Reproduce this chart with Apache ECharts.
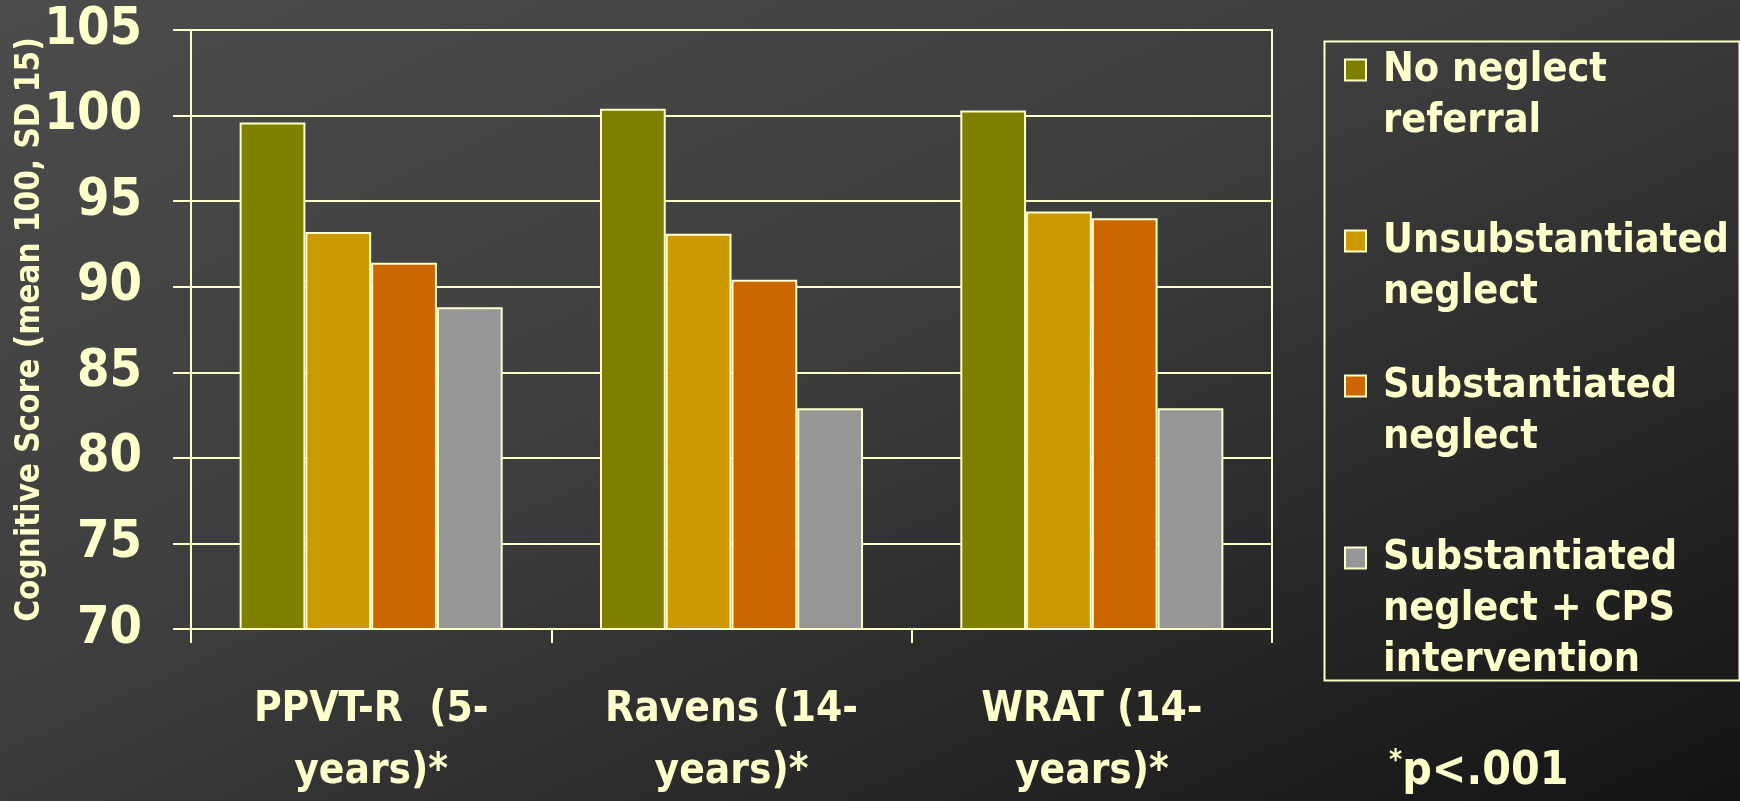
<!DOCTYPE html>
<html>
<head>
<meta charset="utf-8">
<script src="https://cdn.jsdelivr.net/npm/echarts@6/dist/echarts.min.js"></script>
<style>
html,body{margin:0;padding:0;width:1740px;height:801px;overflow:hidden;}
body{background:linear-gradient(to bottom right,#4c4c4c 0%,#3d3d3d 45%,#141414 100%);}
#chart{width:1740px;height:801px;}
</style>
</head>
<body>
<div id="chart"></div>
<script>
const categories = ['PPVT-R  (5-\nyears)*', 'Ravens (14-\nyears)*', 'WRAT (14-\nyears)*'];
const seriesNames = ['No neglect referral', 'Unsubstantiated neglect', 'Substantiated neglect', 'Substantiated neglect + CPS intervention'];
const legendLabels = ['No neglect\nreferral', 'Unsubstantiated\nneglect', 'Substantiated\nneglect', 'Substantiated\nneglect + CPS\nintervention'];
const noNeglect = [99.6, 100.4, 100.3];
const unsubstantiated = [93.2, 93.1, 94.4];
const substantiated = [91.4, 90.4, 94.0];
const substantiatedCPS = [88.8, 82.9, 82.9];
const yMin = 70, yMax = 105, yStep = 5;
const yTitle = 'Cognitive Score (mean 100, SD 15)';

const seriesValues = [noNeglect, unsubstantiated, substantiated, substantiatedCPS];
const colors = ['#808000', '#CC9900', '#CC6600', '#969696'];
const txt = '#FFFFCC';
const FONT = "'Liberation Sans Narrow','DejaVu Sans Condensed',sans-serif";

const chart = echarts.init(document.getElementById('chart'), null, {renderer: 'canvas'});

const L = 51;
const iconCenters = [75, 246, 391, 563];
const legends = seriesNames.map((name, i) => {
  const lines = legendLabels[i].split('\n');
  const n = lines.length;
  const allLines = [];
  for (let k = 0; k < n - 1; k++) allLines.push('{t| }');
  lines.forEach(s => allLines.push('{t|' + s + '}'));
  const content = allLines.join('\n');
  return {
    orient: 'vertical',
    left: 1344,
    top: iconCenters[i] - (2 * n - 1) * L / 2,
    padding: 0,
    selectedMode: false,
    icon: 'rect',
    itemWidth: 21,
    itemHeight: 21,
    data: [{name: name}],
    formatter: () => content,
    textStyle: {
      color: txt, fontFamily: FONT, fontWeight: 'bold', fontSize: 41,
      rich: {t: {color: txt, fontFamily: FONT, fontWeight: 'bold', fontSize: 41, lineHeight: L, padding: [0, 0, 0, 12]}}
    }
  };
});

chart.setOption({
  backgroundColor: 'transparent',
  animation: false,
  textStyle: {fontFamily: FONT},
  grid: {left: 191, right: 468, top: 30, bottom: 172, show: true, borderColor: txt, borderWidth: 2, containLabel: false, outerBoundsMode: 'none'},
  legend: legends,
  xAxis: {
    type: 'category',
    data: categories,
    axisLine: {show: true, lineStyle: {color: txt, width: 2}},
    axisTick: {show: true, length: 14, lineStyle: {color: txt, width: 2}},
    axisLabel: {color: txt, fontFamily: FONT, fontWeight: 'bold', fontSize: 42, lineHeight: 62, margin: 50, interval: 0}
  },
  yAxis: {
    type: 'value',
    min: yMin, max: yMax, interval: yStep,
    name: yTitle,
    nameLocation: 'middle',
    nameGap: 144,
    nameMoveOverlap: false,
    nameRotate: 90,
    nameTextStyle: {color: txt, fontFamily: FONT, fontWeight: 'bold', fontSize: 33},
    axisLine: {show: true, lineStyle: {color: txt, width: 2}},
    axisTick: {show: true, length: 18, lineStyle: {color: txt, width: 2}},
    axisLabel: {color: txt, fontFamily: FONT, fontWeight: 'bold', fontSize: 52, margin: 49},
    splitLine: {show: true, lineStyle: {color: txt, width: 2}}
  },
  series: seriesNames.map((name, i) => ({
    name: name,
    type: 'bar',
    data: seriesValues[i],
    barGap: '0%',
    barCategoryGap: '27%',
    itemStyle: {color: colors[i], borderColor: txt, borderWidth: 2}
  })),
  graphic: [
    {type: 'rect', left: 1322, top: 39, shape: {width: 415, height: 639}, style: {fill: 'none', stroke: txt, lineWidth: 2}, silent: true},
    {type: 'text', left: 1389, top: 748, style: {
      text: '{s|*}{b|p<.001}',
      rich: {
        s: {fill: txt, fontFamily: FONT, fontWeight: 'bold', fontSize: 28, verticalAlign: 'top', padding: [0, 0, 20, 0]},
        b: {fill: txt, fontFamily: FONT, fontWeight: 'bold', fontSize: 46}
      }
    }}
  ]
});
</script>
</body>
</html>
